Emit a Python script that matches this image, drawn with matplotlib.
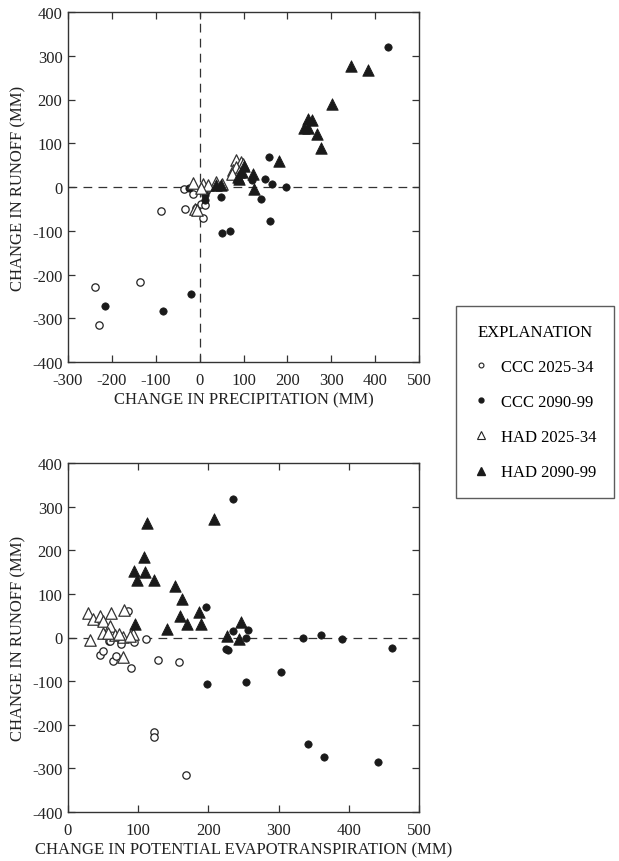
import matplotlib
matplotlib.use("Agg")
import matplotlib.pyplot as plt
from matplotlib.lines import Line2D

plt.rcParams['font.family'] = ['Liberation Serif', 'DejaVu Serif']

# ---------------- Data: top panel (precipitation change vs runoff change)
ccc25_p_x = [-238, -230, -137, -87, -36, -33, -14, -8, 3, 7, 13, 14, 20]
ccc25_p_y = [-229, -315, -218, -55, -4, -51, -15, -48, -38, -70, -42, -8, -3]
ccc90_p_x = [-216, -84, -20, -25, 12, 13, 49, 52, 69, 119, 140, 149, 157, 161, 166, 198, 430]
ccc90_p_y = [-273, -284, -245, -3, -29, -18, -22, -105, -101, 15, -27, 19, 68, -77, 8, 0, 320]
had25_p_x = [-14, 8, 37, 50, -10, -5, 84, 94, 98, 75, 83, 90, 74, 20, 3]
had25_p_y = [10, 8, 11, 8, -50, -53, 62, 57, 52, 38, 45, 34, 29, 5, -3]
had90_p_x = [345, 383, 301, 246, 257, 238, 248, 267, 276, 181, 87, 96, 102, 90, 121, 123, 37, 49]
had90_p_y = [277, 267, 189, 155, 154, 136, 135, 121, 89, 59, 23, 34, 49, 19, 30, -4, 4, 5]

# ---------------- Data: bottom panel (PET change vs runoff change)
ccc25_e_x = [58, 76, 94, 111, 85, 45, 50, 64, 69, 90, 128, 158, 122, 122, 168, 76, 60]
ccc25_e_y = [-9, -9, -11, -3, 60, -40, -31, -53, -43, -71, -52, -56, -217, -227, -315, -16, -8]
ccc90_e_x = [235, 197, 235, 256, 253, 335, 360, 391, 462, 225, 228, 198, 254, 303, 342, 365, 442]
ccc90_e_y = [318, 69, 15, 18, -2, -2, 6, -4, -23, -26, -29, -106, -102, -79, -245, -273, -286]
had25_e_x = [29, 36, 46, 61, 50, 60, 50, 32, 80, 67, 79, 92, 79, 57, 72, 88]
had25_e_y = [56, 43, 50, 57, 37, 27, 11, -5, 63, 6, 2, 8, -44, 10, 8, 3]
had90_e_x = [208, 112, 108, 94, 110, 99, 123, 152, 163, 160, 169, 186, 189, 95, 141, 227, 246, 244]
had90_e_y = [272, 262, 184, 152, 150, 132, 131, 118, 88, 50, 31, 58, 31, 31, 20, 4, 35, -4]

labels = ["CCC 2025-34", "CCC 2090-99", "HAD 2025-34", "HAD 2090-99"]
xticks_top = [-300, -200, -100, 0, 100, 200, 300, 400, 500]
xticks_bot = [0, 100, 200, 300, 400, 500]
yticks = [-400, -300, -200, -100, 0, 100, 200, 300, 400]

W, H = 619, 862
fig = plt.figure(figsize=(W / 100, H / 100), dpi=100)

ax1 = fig.add_axes([68 / W, 1 - 363 / H, 351 / W, 350 / H])
ax2 = fig.add_axes([68 / W, 1 - 813 / H, 351 / W, 349 / H])

FS = 12
dash = (0, (7, 5))
LC = '#333333'


def scat(ax, xo, yo, xf, yf, xt, yt, xT, yT):
    ax.scatter(xo, yo, s=28, facecolors='white', edgecolors='#222222', linewidths=0.9, zorder=3)
    ax.scatter(xf, yf, s=28, facecolors='#1a1a1a', edgecolors='#1a1a1a', linewidths=0.5, zorder=3)
    ax.scatter(xt, yt, marker='^', s=68, facecolors='white', edgecolors='#333333', linewidths=0.9, zorder=3)
    ax.scatter(xT, yT, marker='^', s=68, facecolors='#1a1a1a', edgecolors='#1a1a1a', linewidths=0.6, zorder=4)


def style(ax, xlim, xt, xlabel):
    ax.set_xlim(*xlim)
    ax.set_ylim(-400, 400)
    ax.set_xticks(xt)
    ax.set_yticks(yticks)
    ax.set_xticklabels([str(v) for v in xt], fontsize=FS)
    ax.set_yticklabels([str(v) for v in yticks], fontsize=FS)
    ax.tick_params(direction='in', length=5, width=0.9, top=True, right=True, colors=LC,
                   labelcolor='#222222')
    ax.tick_params(axis='x', pad=7)
    ax.tick_params(axis='y', pad=4)
    for sp in ax.spines.values():
        sp.set_linewidth(1.0)
        sp.set_color(LC)
    ax.set_xlabel(xlabel, fontsize=FS, color='#222222', labelpad=3)
    ax.set_ylabel("CHANGE IN RUNOFF (MM)", fontsize=FS, color='#222222', labelpad=4)
    ax.axhline(0, color=LC, lw=0.9, linestyle=dash, zorder=1)


scat(ax1, ccc25_p_x, ccc25_p_y, ccc90_p_x, ccc90_p_y, had25_p_x, had25_p_y, had90_p_x, had90_p_y)
style(ax1, (-300, 500), xticks_top, "CHANGE IN PRECIPITATION (MM)")
ax1.axvline(0, color=LC, lw=0.9, linestyle=dash, zorder=1)

scat(ax2, ccc25_e_x, ccc25_e_y, ccc90_e_x, ccc90_e_y, had25_e_x, had25_e_y, had90_e_x, had90_e_y)
style(ax2, (0, 500), xticks_bot, "CHANGE IN POTENTIAL EVAPOTRANSPIRATION (MM)")

handles = [
    Line2D([], [], ls='none', marker='o', ms=3.5, mfc='white', mec='#222222', mew=0.8),
    Line2D([], [], ls='none', marker='o', ms=3.5, mfc='#1a1a1a', mec='#1a1a1a'),
    Line2D([], [], ls='none', marker='^', ms=5.5, mfc='white', mec='#222222', mew=0.8),
    Line2D([], [], ls='none', marker='^', ms=5.5, mfc='#1a1a1a', mec='#1a1a1a'),
]
leg = fig.legend(handles, labels, title="EXPLANATION", loc='center',
                 bbox_to_anchor=(535 / W, 1 - 403 / H), fontsize=FS, title_fontsize=FS,
                 frameon=True, fancybox=False, edgecolor=LC, borderpad=1.05,
                 labelspacing=1.15, handlelength=1.0, handletextpad=0.7, borderaxespad=0)
leg.get_frame().set_linewidth(1.0)
leg._legend_box.sep = 14

fig.savefig("out.png", dpi=100)
